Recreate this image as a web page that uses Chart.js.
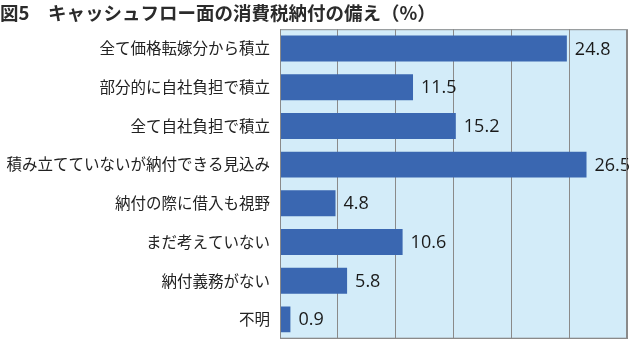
<!DOCTYPE html>
<html><head><meta charset="utf-8">
<script src="https://cdn.jsdelivr.net/npm/chart.js@4/dist/chart.umd.min.js"></script>
<style>html,body{margin:0;padding:0;background:#fff}#wrap{width:633px;height:358px;position:relative}</style>
</head><body><div id="wrap"><canvas id="c" width="633" height="358"></canvas></div>
<script>
const titleText = "図5　キャッシュフロー面の消費税納付の備え（%）";
const categories = ["全て価格転嫁分から積立","部分的に自社負担で積立","全て自社負担で積立","積み立てていないが納付できる見込み","納付の際に借入も視野","まだ考えていない","納付義務がない","不明"];
const values = [24.8, 11.5, 15.2, 26.5, 4.8, 10.6, 5.8, 0.9];
const xTicks = [0, 5, 10, 15, 20, 25, 30];

const bgPlugin = {
  id: 'bg',
  beforeDraw(chart) {
    const {ctx, chartArea: a} = chart;
    ctx.save();
    ctx.fillStyle = '#d3ecf9';
    ctx.fillRect(a.left, a.top, a.right - a.left, a.bottom - a.top);
    ctx.restore();
  },
  afterDatasetsDraw(chart) {
    const {ctx} = chart;
    const meta = chart.getDatasetMeta(0);
    ctx.save();
    ctx.font = '18px "Open Sans", "Noto Sans", sans-serif';
    ctx.fillStyle = '#1a1a1a';
    ctx.textBaseline = 'middle';
    meta.data.forEach((bar, i) => {
      ctx.fillText(values[i].toFixed(1), bar.x + 8, bar.y + 1);
    });
    ctx.restore();
  }
};

new Chart(document.getElementById('c'), {
  type: 'bar',
  data: { labels: categories, datasets: [{ data: values, backgroundColor: '#3a67b1', borderWidth: 0, categoryPercentage: 1, barPercentage: 0.67 }] },
  options: {
    indexAxis: 'y', responsive: false, animation: false,
    layout: { padding: { left: 0, right: 6, top: 0, bottom: 6 } },
    plugins: {
      legend: { display: false }, tooltip: { enabled: false },
      title: { display: true, text: titleText, align: 'start', color: '#2b2b2b',
        font: { family: '"Noto Sans CJK JP", sans-serif', size: 18.5, weight: 'bold', lineHeight: 1.2 },
        padding: { top: 2, bottom: 5 } }
    },
    scales: {
      x: { min: 0, max: 30, afterBuildTicks(s) { s.ticks = xTicks.map(v => ({ value: v })); },
        ticks: { display: false },
        grid: { color: '#8a8a8a', lineWidth: 1, drawTicks: false },
        border: { display: true, color: '#8a8a8a' },
        afterFit(s) { s.height = 0; } },
      y: { grid: { display: false, drawTicks: false }, border: { display: true, color: '#8a8a8a' },
        ticks: { color: '#222', padding: 10, font: { family: '"Noto Sans CJK JP", sans-serif', size: 15.5 } },
        afterFit(s) { s.width = 280; } }
    }
  },
  plugins: [bgPlugin, {
    id: 'frame',
    afterDraw(chart) {
      const {ctx, chartArea: a} = chart;
      ctx.save(); ctx.strokeStyle = '#8a8a8a'; ctx.lineWidth = 1;
      ctx.strokeRect(a.left + 0.5, a.top + 0.5, a.right - a.left - 1, a.bottom - a.top - 1);
      ctx.restore();
    }
  }]
});
</script></body></html>
